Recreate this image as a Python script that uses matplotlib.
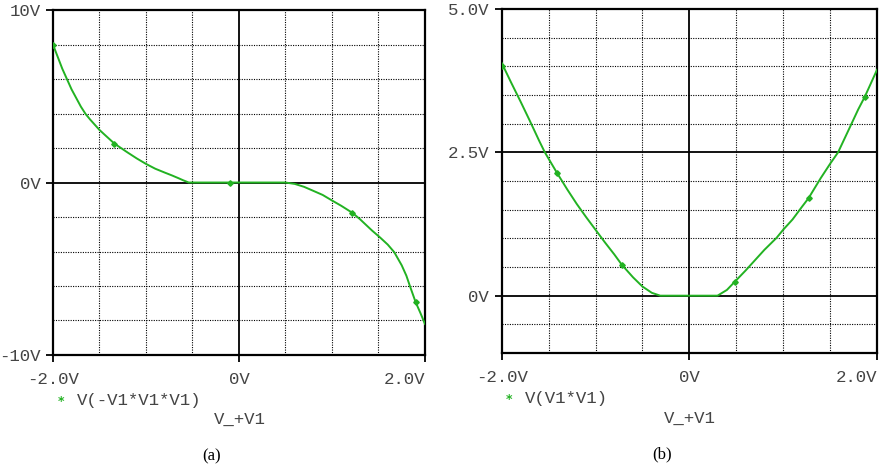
import numpy as np
import matplotlib
matplotlib.use("Agg")
import matplotlib.pyplot as plt

# values
xa = [-2.0, -1.95, -1.9, -1.85, -1.8, -1.75, -1.7, -1.65, -1.6, -1.5, -1.45, -1.34,
      -1.2, -1.1, -1.0, -0.9, -0.8, -0.72, -0.65, -0.6, -0.54, 0.0, 0.5, 0.6, 0.7,
      0.79, 0.9, 1.0, 1.1, 1.22, 1.3, 1.43, 1.52, 1.6, 1.67, 1.75, 1.8, 1.84, 1.9,
      1.95, 2.0]
ya = [8.0, 7.3, 6.6, 6.0, 5.4, 4.9, 4.4, 3.98, 3.65, 3.05, 2.8, 2.26,
      1.75, 1.4, 1.08, 0.8, 0.58, 0.41, 0.25, 0.13, 0.0, 0.0, 0.0, -0.08, -0.25,
      -0.46, -0.72, -1.04, -1.35, -1.76, -2.12, -2.78, -3.2, -3.6, -4.04, -4.8, -5.4,
      -6.03, -6.94, -7.55, -8.2]
mark_xa = [-2.0, -1.34, -0.1, 1.22, 1.9]
mark_ya = [8.0, 2.26, 0.0, -1.76, -6.94]

xb = [-2.0, -1.9, -1.8, -1.7, -1.6, -1.54, -1.41, -1.3, -1.2, -1.1, -1.0, -0.9,
      -0.8, -0.72, -0.6, -0.5, -0.4, -0.31, 0.3, 0.4, 0.5, 0.6, 0.7, 0.8, 0.93,
      1.0, 1.1, 1.2, 1.27, 1.4, 1.5, 1.585, 1.7, 1.8, 1.87, 2.0]
yb = [4.06, 3.72, 3.39, 3.05, 2.7, 2.5, 2.14, 1.85, 1.6, 1.37, 1.15, 0.93,
      0.72, 0.54, 0.32, 0.16, 0.05, 0.0, 0.0, 0.1, 0.27, 0.44, 0.62, 0.8, 1.01,
      1.15, 1.33, 1.55, 1.7, 2.05, 2.3, 2.5, 2.9, 3.25, 3.47, 3.94]
mark_xb = [-2.0, -1.41, -0.72, 0.49, 1.27, 1.87]
mark_yb = [4.0, 2.14, 0.54, 0.23, 1.7, 3.47]

xticks = [-2.0, 0.0, 2.0]
xtick_labels = ["-2.0V", "0V", "2.0V"]
yticks_a = [-10, 0, 10]
ytick_labels_a = ["-10V", "0V", "10V"]
yticks_b = [0.0, 2.5, 5.0]
ytick_labels_b = ["0V", "2.5V", "5.0V"]

green = "#22b222"
txtc = "#444444"
mono = "Liberation Mono"

fig = plt.figure(figsize=(8.8, 4.68), dpi=100)
ax1 = fig.add_axes([0.0602, 0.2415, 0.4227, 0.737])
ax2 = fig.add_axes([0.5701, 0.2457, 0.4265, 0.735])

def setup(ax, ylim, yticks, ylabels, ygrid, solid_y):
    ax.set_xlim(-2, 2)
    ax.set_ylim(*ylim)
    for g in np.arange(-1.5, 2.0, 0.5):
        if abs(g) > 1e-9:
            ax.axvline(g, color="black", lw=0.8, ls=(0, (1, 1.2)), zorder=1)
    for g in ygrid:
        ax.axhline(g, color="black", lw=0.8, ls=(0, (1, 1.2)), zorder=1)
    ax.axvline(0, color="black", lw=1.3, zorder=1)
    for s in solid_y:
        ax.axhline(s, color="black", lw=1.3, zorder=1)
    ax.set_xticks(xticks)
    ax.set_xticklabels(xtick_labels, family=mono, fontsize=12.5, color=txtc)
    ax.get_xticklabels()[-1].set_ha("right")
    ax.set_yticks(yticks)
    ax.set_yticklabels(ylabels, family=mono, fontsize=12.5, color=txtc)
    ax.tick_params(direction="out", length=5, width=1.3, pad=4)
    ax.tick_params(axis="x", pad=7)
    for sp in ax.spines.values():
        sp.set_linewidth(1.6)

setup(ax1, (-10, 10), yticks_a, ytick_labels_a, [-8, -6, -4, -2, 2, 4, 6, 8], [0])
setup(ax2, (-1, 5), yticks_b, ytick_labels_b,
      [-0.5, 0.5, 1.0, 1.5, 2.0, 3.0, 3.5, 4.0, 4.5], [0, 2.5])

ax1.plot(xa, ya, color=green, lw=1.4, zorder=3)
ax1.plot(mark_xa, mark_ya, ls="none", marker="D", ms=2.8, color=green, zorder=4)
ax2.plot(xb, yb, color=green, lw=1.4, zorder=3)
ax2.plot(mark_xb, mark_yb, ls="none", marker="D", ms=2.8, color=green, zorder=4)

# legend / x-axis captions
fig.text(61 / 880, 1 - 401 / 468, "*", color=green, fontsize=9, ha="center", va="center",
         fontweight="bold")
fig.text(77 / 880, 1 - 400 / 468, "V(-V1*V1*V1)", family=mono, fontsize=12.5,
         color=txtc, va="center")
fig.text(240 / 880, 1 - 419 / 468, "V_+V1", family=mono, fontsize=12.5, color=txtc,
         ha="center", va="center")
fig.text(212 / 880, 1 - 456 / 468, "(a)", family="Liberation Serif", fontsize=12,
         color="black", ha="center", va="center")

fig.text(509 / 880, 1 - 399 / 468, "*", color=green, fontsize=9, ha="center", va="center",
         fontweight="bold")
fig.text(525 / 880, 1 - 398 / 468, "V(V1*V1)", family=mono, fontsize=12.5,
         color=txtc, va="center")
fig.text(690 / 880, 1 - 418 / 468, "V_+V1", family=mono, fontsize=12.5, color=txtc,
         ha="center", va="center")
fig.text(662 / 880, 1 - 454 / 468, "(b)", family="Liberation Serif", fontsize=12,
         color="black", ha="center", va="center")

fig.savefig("out.png", dpi=100)
